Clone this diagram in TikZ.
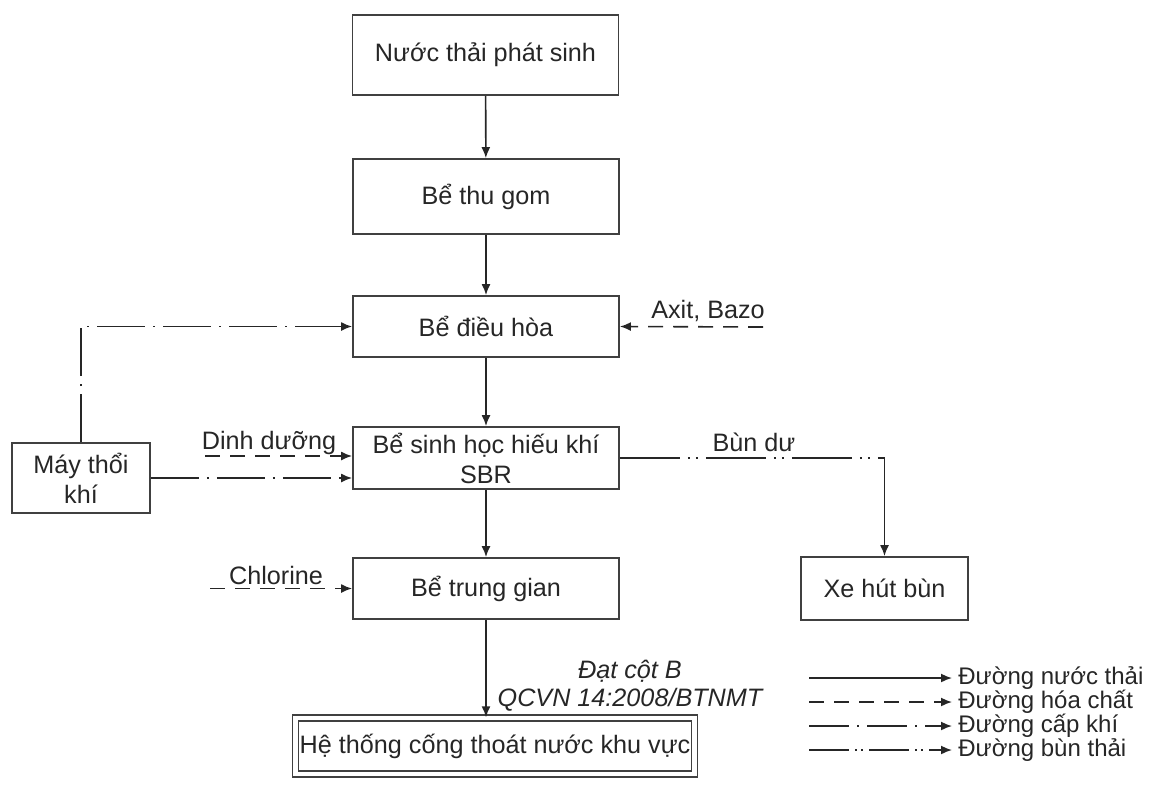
\documentclass[tikz,border=0pt]{standalone}
\usepackage{fontspec}
\setmainfont{Liberation Sans}
\usetikzlibrary{arrows.meta}

\tikzset{
  box/.style={draw=black!75, line width=0.9pt, rectangle, minimum width=133pt, align=center, inner sep=2pt, text=black!85},
  water/.style={draw=black!85, line width=0.8pt, -{Latex[length=5.5pt,width=4.5pt]}},
  chem/.style={water, dash pattern=on 7.5pt off 5pt},
  air/.style={water, dash pattern=on 24pt off 4pt on 1pt off 4pt},
  sludge/.style={water, dash pattern=on 30pt off 4pt on 1pt off 3pt on 1pt off 4pt},
  lbl/.style={text=black!85, inner sep=0pt},
}

\begin{document}
\begin{tikzpicture}[x=0.5pt, y=-0.5pt, font=\fontsize{12.6}{15}\selectfont]
\useasboundingbox (0,0) rectangle (1151,794);

% Main treatment line
\node[box, minimum height=40pt] (nuoc) at (485.5,55) {Nước thải phát sinh};
\node[box, minimum height=37.5pt] (thugom) at (486,196.5) {Bể thu gom};
\node[box, minimum height=30.5pt] (dieuhoa) at (486,326.5) {Bể điều hòa};
\node[box, minimum height=31pt] (sbr) at (486,458) {Bể sinh học hiếu khí\\SBR};
\node[box, minimum height=30.5pt] (trunggian) at (486,588.5) {Bể trung gian};
\node[box, minimum width=199pt, minimum height=28pt, double, double distance=2.2pt, line width=0.7pt] (hethong) at (495,746) {Hệ thống cống thoát nước khu vực};
\draw[water] (nuoc) -- (thugom);
\draw[water] (thugom) -- (dieuhoa);
\draw[water] (dieuhoa) -- (sbr);
\draw[water] (sbr) -- (trunggian);
\draw[water] (trunggian.south) -- (trunggian.south |- hethong.north);
\node[lbl, align=center, font=\fontsize{12.6}{14}\selectfont\itshape] (datcot) at (630,686) {Đạt cột B\\QCVN 14:2008/BTNMT};

% Air supply
\node[box, minimum width=69pt, minimum height=35pt] (maythoi) at (81,478) {Máy thổi\\khí};
\draw[air] (maythoi.north) |- (dieuhoa.west);
\draw[air] (maythoi.east) -- (maythoi.east -| sbr.west);

% Chemicals
\coordinate (dd) at (205,456);
\draw[chem] (dd) -- (dd -| sbr.west);
\node[lbl] (dinhduong) at (269,443) {Dinh dưỡng};
\coordinate (ab) at (763,327);
\draw[chem] (ab) -- (dieuhoa.east);
\node[lbl] (axit) at (708,311) {Axit, Bazo};
\coordinate (cl) at (210,588.5);
\draw[chem] (cl) -- (trunggian.west);
\node[lbl] (chlorine) at (276,575) {Chlorine};

% Sludge
\node[box, minimum width=83.5pt, minimum height=31.5pt] (xehut) at (884.5,588.5) {Xe hút bùn};
\coordinate (bend) at (sbr.east -| xehut.north);
\draw[sludge, -] (sbr.east) -- (bend);
\draw[water] (bend) -- (xehut.north);
\node[lbl] (bundu) at (754,442) {Bùn dư};

% Legend
\node[lbl, anchor=west, font=\fontsize{12}{14}\selectfont] (lg1) at (958,678) {Đường nước thải};
\node[lbl, anchor=west, font=\fontsize{12}{14}\selectfont] (lg2) at (958,702) {Đường hóa chất};
\node[lbl, anchor=west, font=\fontsize{12}{14}\selectfont] (lg3) at (958,726) {Đường cấp khí};
\node[lbl, anchor=west, font=\fontsize{12}{14}\selectfont] (lg4) at (958,750) {Đường bùn thải};
\coordinate (lg1s) at (809,678);
\coordinate (lg2s) at (809,702);
\coordinate (lg3s) at (809,726);
\coordinate (lg4s) at (809,750);
\draw[water, shorten >=3pt] (lg1s) -- (lg1.west);
\draw[chem, shorten >=3pt] (lg2s) -- (lg2.west);
\draw[air, dash pattern=on 20pt off 4pt on 1pt off 4pt, shorten >=3pt] (lg3s) -- (lg3.west);
\draw[sludge, dash pattern=on 20pt off 3pt on 1pt off 2pt on 1pt off 3pt, shorten >=3pt] (lg4s) -- (lg4.west);
\end{tikzpicture}
\end{document}
